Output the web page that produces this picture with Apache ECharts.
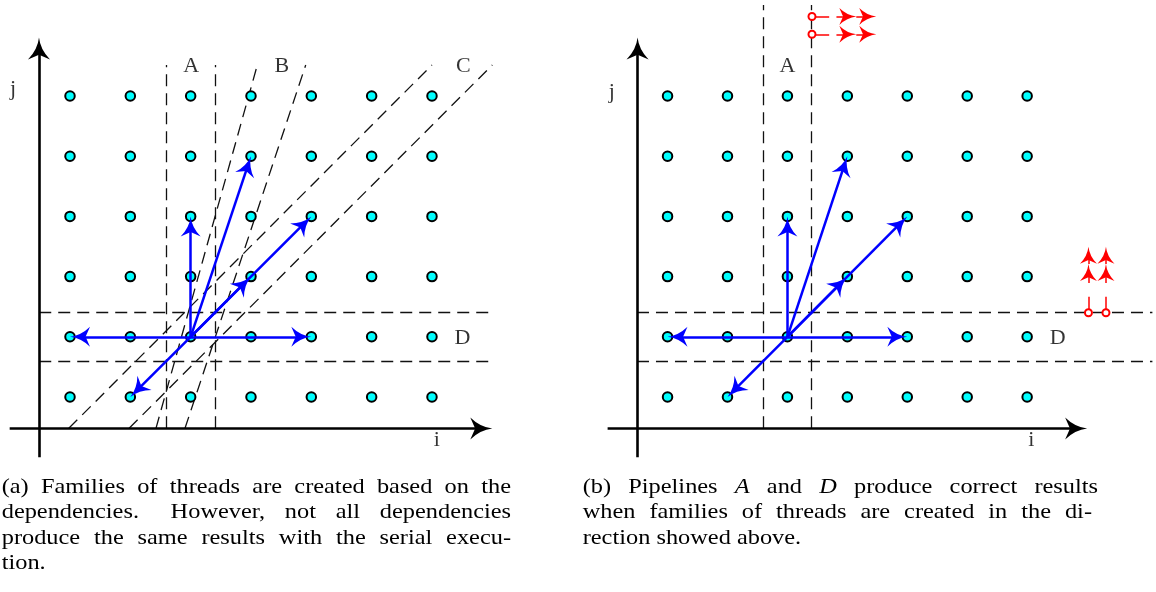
<!DOCTYPE html>
<html><head><meta charset="utf-8">
<script src="https://cdn.jsdelivr.net/npm/echarts@6/dist/echarts.min.js"></script>
<style>html,body{margin:0;padding:0;background:#fff}#c{width:1156px;height:592px}</style>
</head><body><div id="c"></div>
<script>
// ---------- data (lattice units: i = column, j = row) ----------
const iValues = [1, 2, 3, 4, 5, 6, 7];
const jValues = [1, 2, 3, 4, 5, 6];
const source = [3, 2];
const dependencyTargets = [[1, 2], [5, 2], [3, 4], [4, 5], [5, 4], [4, 3], [2, 1]];
const pipelineA = [2.6, 3.4];          // vertical dashed lines (i)
const pipelineD = [1.6, 2.4];          // horizontal dashed lines (j)
const pipelineB = [[[2.425, 0.48], [4.105, 6.515]], [[2.906, 0.48], [4.907, 6.515]]];
const pipelineC = [[[0.98, 0.48], [7.0, 6.515]], [[1.98, 0.48], [8.0, 6.515]]];
const axisI = [[0, 0.477], [8, 0.477]];
const axisJleft = [[0.486, 0], [0.486, 6.97]];
const axisJright = [[0.50, 0], [0.50, 6.97]];
const labelsLeft = [['A', 3.01, 6.50], ['B', 4.51, 6.50], ['C', 7.52, 6.50], ['D', 7.506, 1.97], ['i', 7.078, 0.28], ['j', 0.055, 6.11]];
const labelsRight = [['A', 3.0, 6.50], ['D', 7.51, 1.98], ['i', 7.07, 0.28], ['j', 0.072, 6.06]];
// red direction markers (right panel)
const redCirclesTop = [[3.41, 7.32], [3.41, 7.025]];
const redCirclesRight = [[8.023, 2.40], [8.315, 2.40]];
const captionLeft = ["(a) Families of threads are created based on the", "dependencies. However, not all dependencies", "produce the same results with the serial execu-", "tion."];
const captionRight = ["(b) Pipelines *A* and *D* produce correct results", "when families of threads are created in the di-", "rection showed above."];

// ---------- layout ----------
const ux = 60.33, uy = 60.2;
const org = [[9.67, 457.2], [607.67, 457.2]];
const xr = [[-0.15, 8.15], [-0.15, 9.15]];
const yr = [-0.1, 7.59];
const ARROW = 'path://M50,0 Q56,55 100,100 L50,78 L0,100 Q44,55 50,0 Z';
function gridFor(p) {
  return { left: org[p][0] + xr[p][0] * ux, width: (xr[p][1] - xr[p][0]) * ux,
           top: org[p][1] - yr[1] * uy, height: (yr[1] - yr[0]) * uy };
}
function shorten(a, b, px) {
  const dx = (b[0] - a[0]) * ux, dy = (b[1] - a[1]) * uy;
  const L = Math.hypot(dx, dy);
  return [b[0] - dx / L * px / ux, b[1] - dy / L * px / uy];
}
function segs(p, list, lineStyle, arrow, size, z) {
  return { type: 'lines', coordinateSystem: 'cartesian2d', xAxisIndex: p, yAxisIndex: p,
    silent: true, clip: false, z: z,
    symbol: arrow ? ['none', ARROW] : ['none', 'none'], symbolSize: size || 10,
    lineStyle: Object.assign({ opacity: 1, curveness: 0 }, lineStyle),
    data: list.map(c => ({ coords: c })) };
}
function arrowSegs(p, list, color, width, size, z) {
  const half = size[1] / 2;
  return segs(p, list.map(s => [s[0], shorten(s[0], s[1], half)]), { color, width }, true, size, z);
}
const dash = { color: '#111', width: 1.3, type: [12, 7] };

const dots = [];
jValues.forEach(j => iValues.forEach(i => dots.push([i, j])));

function panelSeries(p, withBC, labels) {
  const s = [];
  const aTop = p === 0 ? 6.515 : 7.51;
  s.push(segs(p, pipelineA.map(x => [[x, 0.48], [x, aTop]]), dash, false, 0, 2));
  const dRight = p === 0 ? 8 : 9.09;
  s.push(segs(p, pipelineD.map(y => [[0.49, y], [dRight, y]]), dash, false, 0, 2));
  if (withBC) {
    s.push(segs(p, pipelineB, dash, false, 0, 2));
    s.push(segs(p, pipelineC, dash, false, 0, 2));
  }
  s.push(arrowSegs(p, [axisI, p === 0 ? axisJleft : axisJright], '#000', 2.6, [16, 22], 3));
  s.push({ type: 'scatter', xAxisIndex: p, yAxisIndex: p, silent: true, z: 4,
    symbol: 'circle', symbolSize: 9.5, data: dots,
    itemStyle: { color: '#00ffff', borderColor: '#000', borderWidth: 2, opacity: 1 } });
  s.push(arrowSegs(p, dependencyTargets.map(t => [source, t]), '#0000ff', 2.5, [15, 20], 5));
  s.push({ type: 'scatter', xAxisIndex: p, yAxisIndex: p, silent: true, z: 6,
    symbol: 'circle', symbolSize: 1, itemStyle: { color: 'rgba(0,0,0,0)' },
    data: labels.map(l => ({ name: l[0], value: [l[1], l[2]] })),
    label: { show: true, position: 'inside', formatter: '{b}', color: '#000',
      fontFamily: 'Liberation Serif', fontSize: 22 } });
  return s;
}

const series = [].concat(panelSeries(0, true, labelsLeft), panelSeries(1, false, labelsRight));
const red = '#ff0000';
const redTop = [], redTopArrows = [];
redCirclesTop.forEach(c => {
  redTop.push([c, [3.697, c[1]]]);
  redTopArrows.push([[3.818, c[1]], [4.149, c[1]]]);
  redTopArrows.push([[4.149, c[1]], [4.481, c[1]]]);
});
const redRight = [], redRightArrows = [];
redCirclesRight.forEach(c => {
  redRight.push([c, [c[0], 2.666]]);
  redRightArrows.push([[c[0], 2.894], [c[0], 3.209]]);
  redRightArrows.push([[c[0], 3.209], [c[0], 3.497]]);
});
series.push(segs(1, redTop.concat(redRight), { color: red, width: 1.5 }, false, 0, 7));
series.push(arrowSegs(1, redTopArrows.concat(redRightArrows), red, 1.5, [12, 17], 7));
series.push({ type: 'scatter', xAxisIndex: 1, yAxisIndex: 1, silent: true, z: 8,
  symbol: 'circle', symbolSize: 7, data: redCirclesTop.concat(redCirclesRight),
  itemStyle: { color: '#fff', borderColor: red, borderWidth: 2, opacity: 1 } });

// ---------- captions (justified words, horizontally widened serif) ----------
const capFont = 21, capFam = '"Liberation Serif"';
const ctx = document.createElement('canvas').getContext('2d');
function fontStr(it) { return (it ? 'italic ' : '') + capFont + 'px ' + capFam; }
function wordW(w, it) { ctx.font = fontStr(it); return ctx.measureText(w).width; }
function parse(text) {
  return text.split(' ').map(w => {
    const it = /^\*.*\*$/.test(w);
    const t = it ? w.slice(1, -1) : w;
    return { t, it, w: wordW(t, it) };
  });
}
const spaceW = wordW(' ', false);
function natural(text) {
  const ws = parse(text);
  return ws.reduce((a, b) => a + b.w, 0) + spaceW * (ws.length - 1);
}
const justLines = [[captionLeft[0], 509.3], [captionLeft[1], 509.3], [captionLeft[2], 509.3],
                   [captionRight[0], 515.3], [captionRight[1], 509.3]];
let sx = Math.min.apply(null, justLines.map(l => l[1] / natural(l[0])));
sx = Math.min(sx, 1.16);
const graphics = [];
function layoutLine(text, x0, x1, baseline, justify) {
  const words = parse(text);
  const sum = words.reduce((a, b) => a + b.w * sx, 0);
  const weights = words.slice(0, -1).map(w => /\.$/.test(w.t) ? 1.6 : 1);
  const wsum = weights.reduce((a, b) => a + b, 0);
  const unit = justify ? (x1 - x0 - sum) / wsum : spaceW * sx;
  let x = x0;
  words.forEach((w, k) => {
    graphics.push({ type: 'text', x: x, y: baseline - 7, scaleX: sx, scaleY: 1, silent: true,
      style: { text: w.t, fontSize: capFont, fontFamily: 'Liberation Serif',
        fontStyle: w.it ? 'italic' : 'normal', fill: '#000', verticalAlign: 'middle', align: 'left' } });
    x += w.w * sx + (k < weights.length ? weights[k] * unit : 0);
  });
}
const baselines = [494, 519.5, 545, 570.5];
captionLeft.forEach((t, k) => layoutLine(t, 1.7, 511, baselines[k], k < captionLeft.length - 1));
const rightEnds = [1098, 1092];
captionRight.forEach((t, k) => layoutLine(t, 582.7, rightEnds[k] || 0, baselines[k], k < captionRight.length - 1));

const chart = echarts.init(document.getElementById('c'), null, { renderer: 'canvas' });
chart.setOption({
  animation: false,
  backgroundColor: '#fff',
  grid: [gridFor(0), gridFor(1)],
  xAxis: [0, 1].map(p => ({ type: 'value', gridIndex: p, min: xr[p][0], max: xr[p][1], show: false })),
  yAxis: [0, 1].map(p => ({ type: 'value', gridIndex: p, min: yr[0], max: yr[1], show: false })),
  series: series,
  graphic: graphics
});
</script></body></html>
